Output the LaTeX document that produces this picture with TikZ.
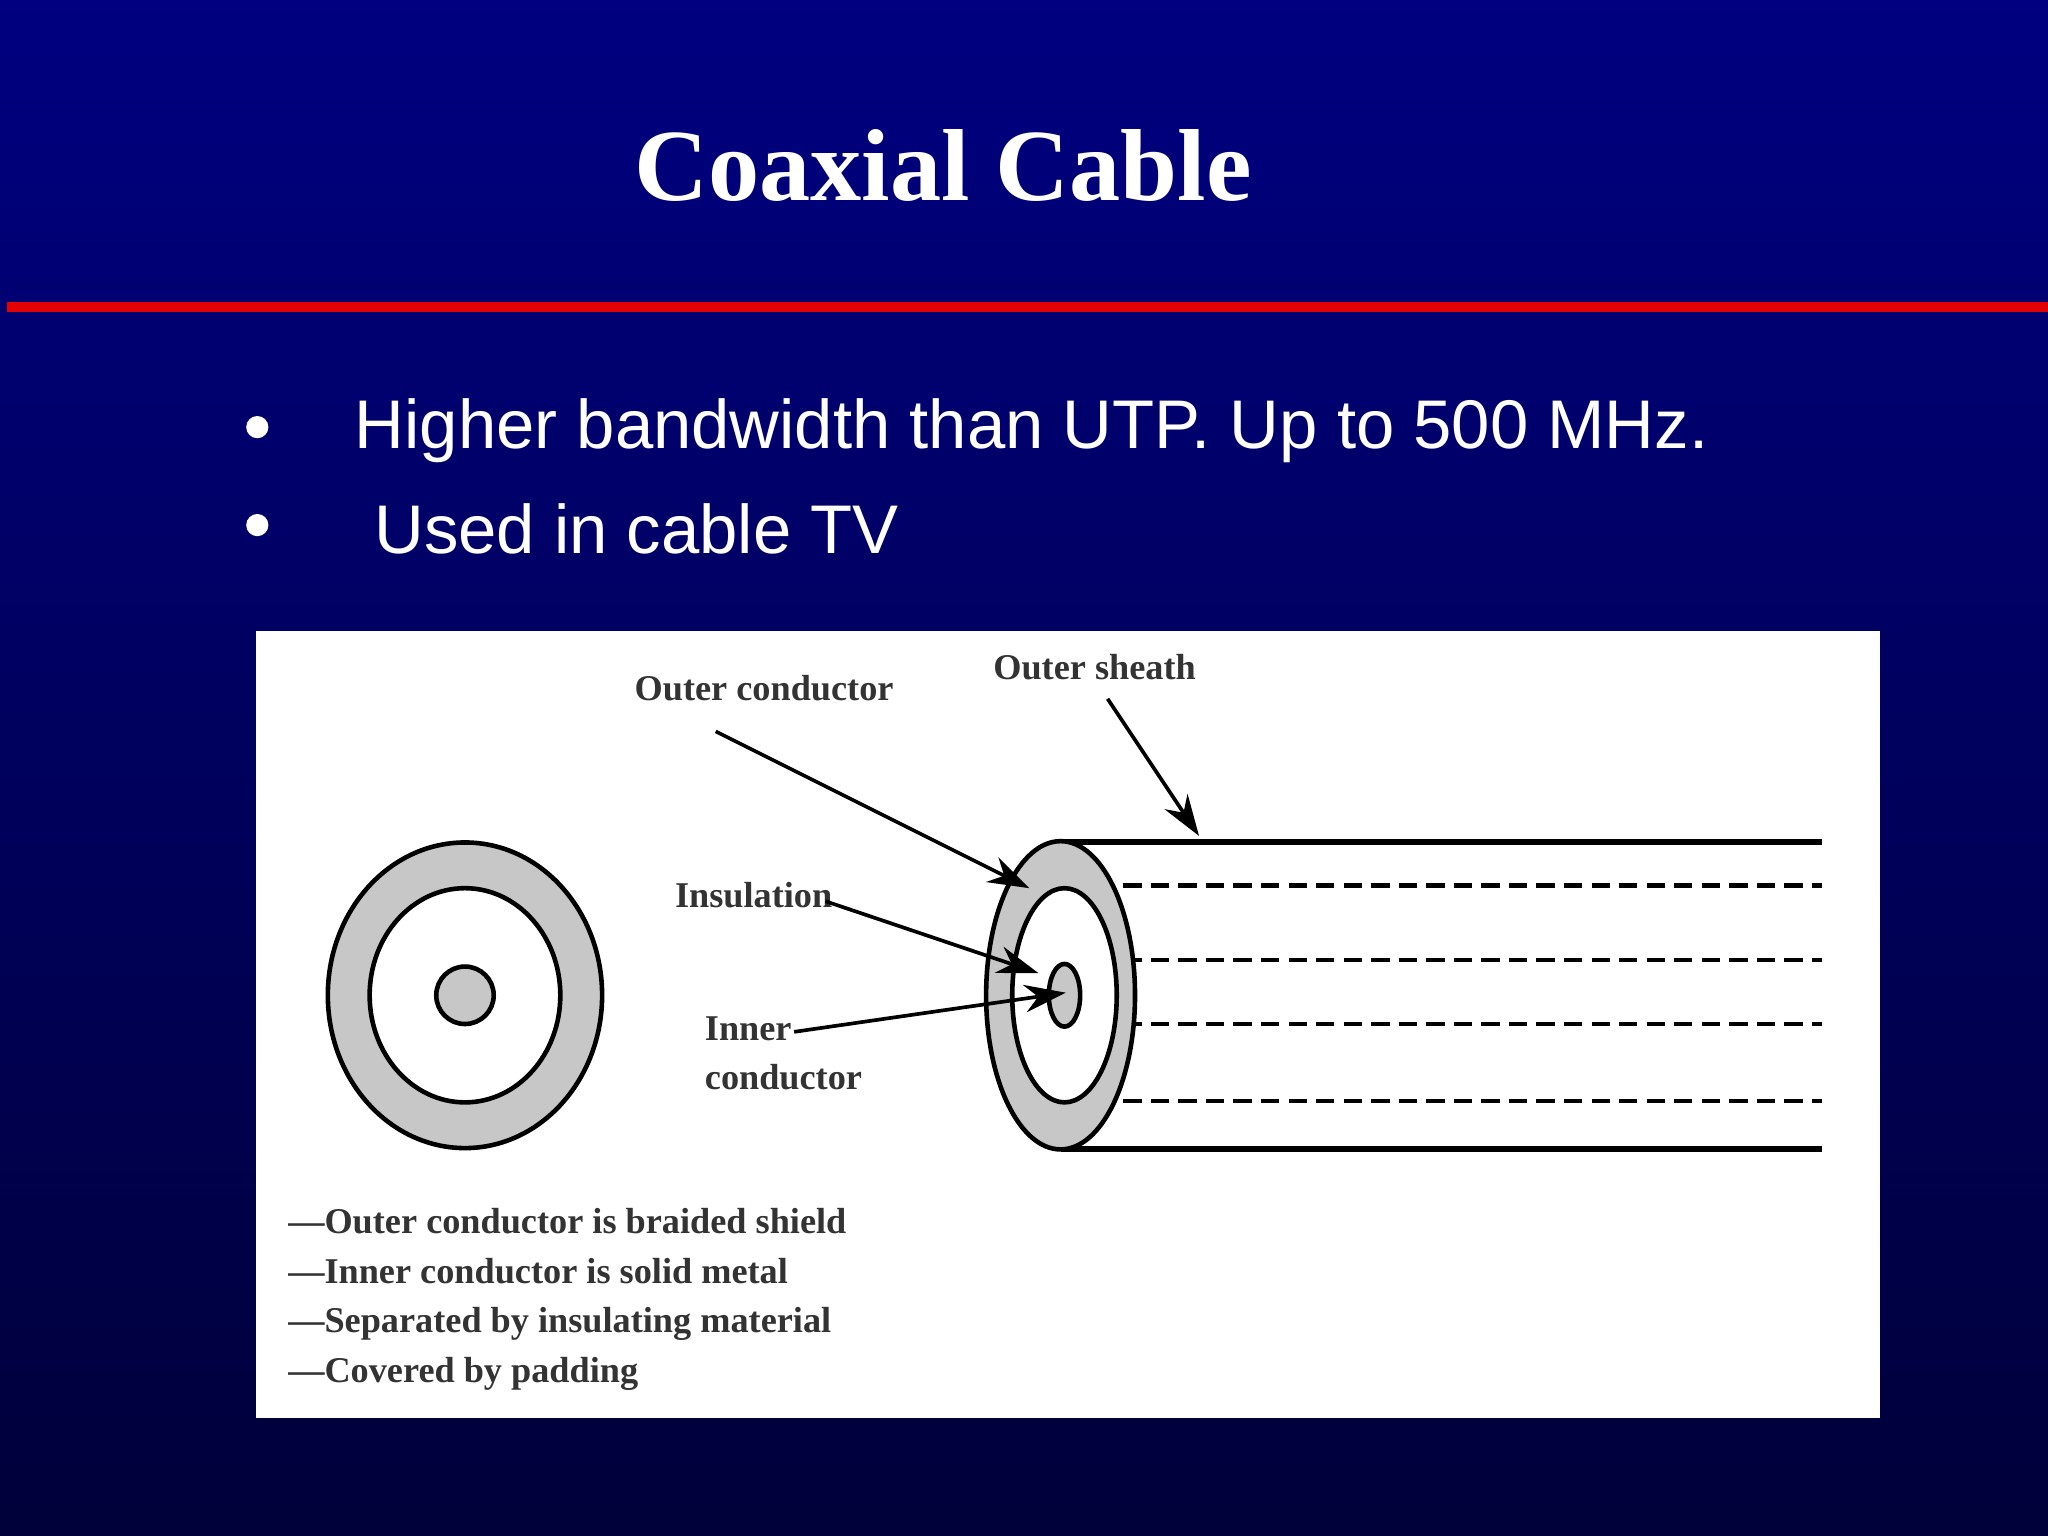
\documentclass[tikz,border=0pt]{standalone}
\usepackage{fontspec}
\setmainfont{Liberation Serif}
\newfontfamily\arial{Liberation Sans}
\usetikzlibrary{arrows.meta}
\begin{document}
\begin{tikzpicture}[x=0.1mm,y=-0.1mm,
 lbl/.style={font=\fontsize{7.9pt}{10.5pt}\selectfont\bfseries,text=black!80,inner sep=0},
 arr/.style={draw=black,line width=0.8pt,-{Stealth[length=9pt,width=6pt]}},
 ring/.style={draw=black,line width=1pt}]
\useasboundingbox (0,0) rectangle (1568,1176);
\shade[top color={rgb,255:red,0;green,0;blue,128},bottom color={rgb,255:red,0;green,0;blue,58}] (0,0) rectangle (1568,1176);
\fill[red!90!black] (5,231) rectangle (1568,239);
\node[text=white,font=\fontsize{22.3pt}{27pt}\selectfont\bfseries] (title) at (722,127) {Coaxial Cable};
\node[text=white,font=\arial\fontsize{15pt}{18pt}\selectfont,anchor=west,inner sep=0] (b1) at (271,330) {Higher bandwidth than UTP. Up to 500 MHz.};
\node[text=white,font=\arial\fontsize{15pt}{18pt}\selectfont,anchor=west,inner sep=0] (b2) at (286,405) {Used in cable TV};
\fill[white] (197,327) circle (8.5);
\fill[white] (197,402) circle (8.5);
\fill[white] (196,483) rectangle (1439,1086);
% left cross-section
\draw[ring,fill=black!22] (356,762) ellipse [x radius=105,y radius=117];
\draw[ring,fill=white] (356,762) ellipse [x radius=73,y radius=82];
\draw[ring,fill=black!22] (356,762) circle (22);
% cable body
\draw[line width=1.3pt] (812,645) -- (1395,645);
\draw[line width=1.3pt] (812,880) -- (1395,880);
\foreach \yy in {678,735,784,843}{\draw[line width=1pt,dash pattern=on 4pt off 2pt] (860,\yy) -- (1395,\yy);}
\draw[ring,fill=black!22] (812,762) ellipse [x radius=57,y radius=118];
\draw[ring,fill=white] (815,762) ellipse [x radius=40,y radius=82];
\draw[ring,fill=black!22] (815,762) ellipse [x radius=12,y radius=24];
% labels
\node[lbl] (oc) at (585,527) {Outer conductor};
\node[lbl] (os) at (838,511) {Outer sheath};
\node[lbl] (ins) at (577,685) {Insulation};
\node[lbl,align=left,anchor=north west] (ic) at (539,778) {Inner\\conductor};
\coordinate (ocs) at (548,560); \coordinate (oce) at (788,680);
\coordinate (oss) at (848,535); \coordinate (ose) at (918,640);
\coordinate (ins1) at (632,690); \coordinate (ins2) at (795,745);
\coordinate (ic1) at (608,790); \coordinate (ic2) at (816,760);
\draw[arr] (ocs) -- (oce);
\draw[arr] (oss) -- (ose);
\draw[arr] (ins1) -- (ins2);
\draw[arr] (ic1) -- (ic2);
\node[lbl,anchor=west,align=left,font=\fontsize{7.9pt}{10.8pt}\selectfont\bfseries] (notes) at (220,995) {---Outer conductor is braided shield\\---Inner conductor is solid metal\\---Separated by insulating material\\---Covered by padding};
\end{tikzpicture}
\end{document}
